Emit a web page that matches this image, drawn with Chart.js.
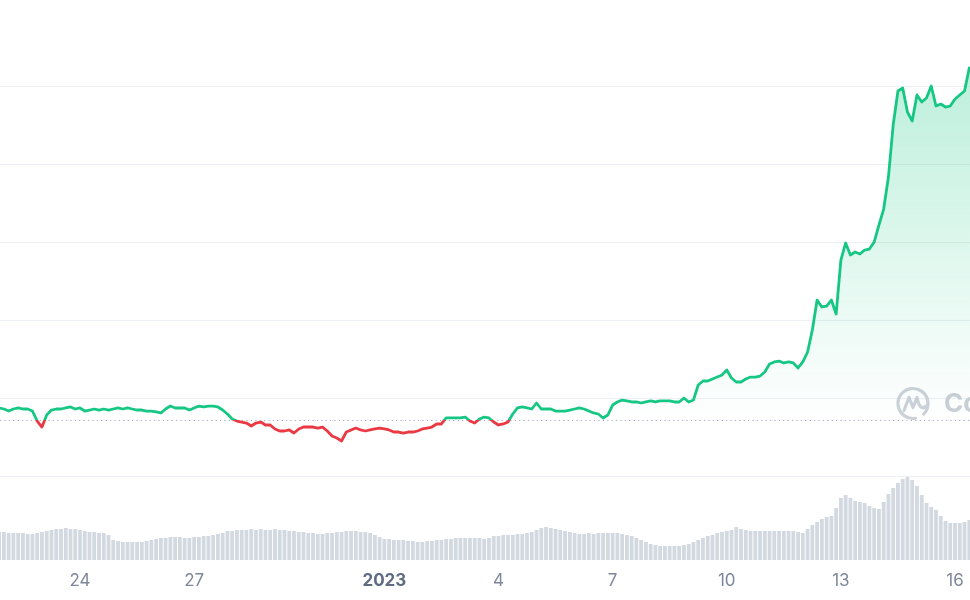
<!DOCTYPE html>
<html>
<head>
<meta charset="utf-8">
<script src="https://cdn.jsdelivr.net/npm/chart.js@4.4.1/dist/chart.umd.min.js"></script>
<style>
  html, body { margin: 0; padding: 0; background: #fff; }
  #wrap { width: 970px; height: 600px; }
</style>
</head>
<body>
<div id="wrap"><canvas id="price-chart" width="970" height="600"></canvas></div>
<script>
// price + volume, 3-hourly samples from Dec 21 21:00 (day offsets relative to 2023-01-01)
const startDay = -10.125;
const stepDays = 0.125;

const price = [
  1.872, 1.859, 1.833, 1.859, 1.872, 1.859, 1.859, 1.833, 1.705, 1.628,
  1.782, 1.846, 1.859, 1.859, 1.872, 1.885, 1.859, 1.872, 1.833, 1.846,
  1.859, 1.846, 1.859, 1.846, 1.859, 1.872, 1.859, 1.872, 1.859, 1.846,
  1.846, 1.833, 1.833, 1.821, 1.808, 1.859, 1.897, 1.872, 1.872, 1.872,
  1.846, 1.872, 1.897, 1.885, 1.897, 1.897, 1.885, 1.846, 1.795, 1.731,
  1.705, 1.692, 1.679, 1.641, 1.679, 1.692, 1.654, 1.654, 1.603, 1.577,
  1.577, 1.590, 1.551, 1.603, 1.628, 1.628, 1.628, 1.615, 1.628, 1.577,
  1.513, 1.487, 1.449, 1.564, 1.590, 1.615, 1.590, 1.577, 1.590, 1.603,
  1.615, 1.603, 1.590, 1.564, 1.564, 1.551, 1.564, 1.564, 1.577, 1.603,
  1.615, 1.628, 1.667, 1.667, 1.744, 1.744, 1.744, 1.744, 1.756, 1.705,
  1.679, 1.731, 1.756, 1.744, 1.692, 1.654, 1.667, 1.692, 1.795, 1.872,
  1.885, 1.872, 1.859, 1.936, 1.859, 1.859, 1.859, 1.833, 1.833, 1.833,
  1.846, 1.859, 1.872, 1.859, 1.833, 1.808, 1.795, 1.744, 1.782, 1.910,
  1.949, 1.974, 1.962, 1.949, 1.949, 1.936, 1.949, 1.962, 1.949, 1.962,
  1.962, 1.962, 1.949, 1.949, 2.000, 1.949, 1.974, 2.167, 2.218, 2.218,
  2.244, 2.269, 2.295, 2.359, 2.256, 2.205, 2.205, 2.244, 2.269, 2.269,
  2.282, 2.333, 2.436, 2.462, 2.474, 2.449, 2.462, 2.449, 2.385, 2.462,
  2.590, 2.872, 3.256, 3.167, 3.179, 3.256, 3.077, 3.769, 3.987, 3.833,
  3.872, 3.846, 3.897, 3.910, 4.000, 4.218, 4.423, 4.833, 5.500, 5.936,
  5.974, 5.667, 5.551, 5.885, 5.795, 5.846, 6.000, 5.744, 5.769, 5.731,
  5.744, 5.833, 5.885, 5.936, 6.231, 6.128
];

const volume = [
  2.8, 2.8, 2.7, 2.7, 2.7, 2.7, 2.6, 2.6, 2.7, 2.8,
  2.9, 3.0, 3.1, 3.1, 3.2, 3.1, 3.1, 3.0, 2.9, 2.8,
  2.8, 2.7, 2.7, 2.5, 2.0, 1.9, 1.8, 1.8, 1.8, 1.8,
  1.8, 1.9, 2.0, 2.1, 2.2, 2.2, 2.3, 2.3, 2.3, 2.2,
  2.2, 2.3, 2.3, 2.4, 2.4, 2.5, 2.6, 2.7, 2.9, 2.9,
  3.0, 3.0, 3.0, 3.1, 3.0, 3.1, 3.0, 3.0, 3.1, 3.0,
  3.0, 2.9, 2.9, 2.8, 2.8, 2.7, 2.7, 2.6, 2.6, 2.7,
  2.7, 2.8, 2.8, 2.9, 2.9, 2.9, 2.8, 2.8, 2.7, 2.5,
  2.3, 2.1, 2.1, 2.0, 2.0, 2.0, 1.9, 1.9, 1.8, 1.8,
  1.9, 1.9, 2.0, 2.0, 2.1, 2.1, 2.2, 2.2, 2.2, 2.2,
  2.2, 2.2, 2.1, 2.2, 2.4, 2.4, 2.5, 2.5, 2.5, 2.6,
  2.6, 2.7, 2.8, 3.0, 3.2, 3.3, 3.2, 3.1, 3.0, 2.9,
  2.8, 2.7, 2.6, 2.6, 2.7, 2.6, 2.7, 2.7, 2.7, 2.7,
  2.7, 2.6, 2.5, 2.4, 2.2, 2.0, 1.8, 1.6, 1.5, 1.4,
  1.4, 1.4, 1.4, 1.4, 1.5, 1.6, 1.8, 2.0, 2.2, 2.4,
  2.5, 2.7, 2.8, 2.9, 3.0, 3.3, 3.1, 3.0, 2.9, 2.9,
  2.9, 2.9, 2.9, 2.9, 2.9, 2.9, 2.9, 2.9, 2.8, 2.7,
  3.1, 3.5, 3.8, 4.1, 4.3, 4.4, 5.2, 6.2, 6.5, 6.2,
  5.9, 5.8, 5.7, 5.4, 5.2, 5.1, 5.8, 6.6, 7.2, 7.7,
  8.1, 8.3, 8.0, 7.4, 6.5, 5.7, 5.3, 5.0, 4.4, 3.9,
  3.7, 3.7, 3.7, 3.8, 4.0, 4.0
];

const baseline = 1.718;               // opening price of the period
const gridValues = [1, 2, 3, 4, 5, 6];
const tickDays = [-8, -5, 0, 3, 6, 9, 12, 15];
const tickLabels = ['24', '27', '2023', '4', '7', '10', '13', '16'];

const GREEN = '#16c784';
const RED = '#ea3943';

(function () {
  const priceData = price.map((v, i) => ({ x: startDay + i * stepDays, y: v }));
  const volumeData = volume.map((v, i) => ({ x: startDay + i * stepDays, y: v }));

  function isYear(c) {
    return !!(c && c.tick) && tickLabels[tickDays.indexOf(c.tick.value)] === '2023';
  }

  function splitGradient(chart, above, below, fade) {
    const { ctx, chartArea, scales } = chart;
    if (!chartArea) return above || 'rgba(0,0,0,0)';
    const h = chartArea.bottom - chartArea.top;
    let stop = (scales.y.getPixelForValue(baseline) - chartArea.top) / h;
    stop = Math.min(Math.max(stop, 0), 1);
    const g = ctx.createLinearGradient(0, chartArea.top, 0, chartArea.bottom);
    if (fade) {
      g.addColorStop(0, 'rgba(22,199,132,0.34)');
      g.addColorStop(stop, 'rgba(22,199,132,0.0)');
      g.addColorStop(stop, 'rgba(234,57,67,0.0)');
      g.addColorStop(1, 'rgba(234,57,67,0.08)');
    } else {
      g.addColorStop(0, above);
      g.addColorStop(stop, above);
      g.addColorStop(stop, below);
      g.addColorStop(1, below);
    }
    return g;
  }

  const baselinePlugin = {
    id: 'baselineAndMark',
    beforeDatasetsDraw(chart) {
      const { ctx, chartArea, scales } = chart;
      const y = Math.round(scales.y.getPixelForValue(baseline)) + 0.5;
      ctx.save();
      ctx.strokeStyle = '#a7b0c0';
      ctx.lineWidth = 1.2;
      ctx.setLineDash([1.2, 3.2]);
      ctx.beginPath();
      ctx.moveTo(chartArea.left, y);
      ctx.lineTo(chartArea.right, y);
      ctx.stroke();
      ctx.setLineDash([]);

      // CoinMarketCap watermark
      const cx = chartArea.right - 57, cy = y - 17;
      ctx.strokeStyle = '#ccd1d9';
      ctx.lineWidth = 3.2;
      ctx.lineCap = 'round';
      ctx.lineJoin = 'round';
      ctx.beginPath();
      ctx.arc(cx, cy, 15, Math.PI * 0.45, Math.PI * 2.25);
      ctx.stroke();
      ctx.beginPath();
      ctx.moveTo(cx - 9, cy + 7);
      ctx.lineTo(cx - 4, cy - 6);
      ctx.lineTo(cx, cy + 4);
      ctx.lineTo(cx + 4, cy - 6);
      ctx.quadraticCurveTo(cx + 7, cy + 9, cx + 14, cy + 2);
      ctx.stroke();
      ctx.fillStyle = '#c9ced6';
      ctx.font = 'bold 26px Inter, "Noto Sans", sans-serif';
      ctx.textBaseline = 'middle';
      ctx.fillText('CoinMarketCap', cx + 31, cy + 1);
      ctx.restore();
    },
  };

  new Chart(document.getElementById('price-chart'), {
    type: 'line',
    data: {
      datasets: [
        {
          type: 'line',
          label: 'Price',
          data: priceData,
          yAxisID: 'y',
          order: 0,
          borderWidth: 2.8,
          pointRadius: 0,
          tension: 0,
          borderJoinStyle: 'round',
          borderColor: (c) => splitGradient(c.chart, GREEN, RED, false),
          backgroundColor: (c) => splitGradient(c.chart, null, null, true),
          fill: { value: baseline },
        },
        {
          type: 'bar',
          label: 'Volume',
          data: volumeData,
          yAxisID: 'y2',
          order: 1,
          backgroundColor: '#d3d9e1',
          barPercentage: 1,
          categoryPercentage: 0.8,
        },
      ],
    },
    options: {
      responsive: false,
      animation: false,
      layout: { padding: 0 },
      plugins: { legend: { display: false }, tooltip: { enabled: false } },
      scales: {
        x: {
          type: 'linear',
          min: -10.103,
          max: 15.394,
          offset: false,
          grid: { display: false, drawTicks: false },
          border: { display: false },
          afterBuildTicks: (s) => { s.ticks = tickDays.map((v) => ({ value: v })); },
          afterFit: (s) => { s.height = 40; s.paddingLeft = 0; s.paddingRight = 0; },
          ticks: {
            padding: 11,
            autoSkip: false,
            maxRotation: 0,
            color: (c) => (isYear(c) ? '#5f6b80' : '#7f889a'),
            font: (c) => ({
              family: 'Inter, "Noto Sans", sans-serif',
              size: 17,
              weight: isYear(c) ? 'bold' : 'normal',
            }),
            callback: (v) => tickLabels[tickDays.indexOf(v)],
          },
        },
        y: {
          min: -0.077,
          max: 7.103,
          grid: { color: '#edf0f4', lineWidth: 1, drawTicks: false },
          border: { display: false },
          afterBuildTicks: (s) => { s.ticks = gridValues.map((v) => ({ value: v })); },
          afterFit: (s) => { s.width = 0; },
          ticks: { display: false },
        },
        y2: {
          display: false,
          min: 0,
          max: 56,
        },
      },
    },
    plugins: [baselinePlugin],
  });
})();
</script>
</body>
</html>
